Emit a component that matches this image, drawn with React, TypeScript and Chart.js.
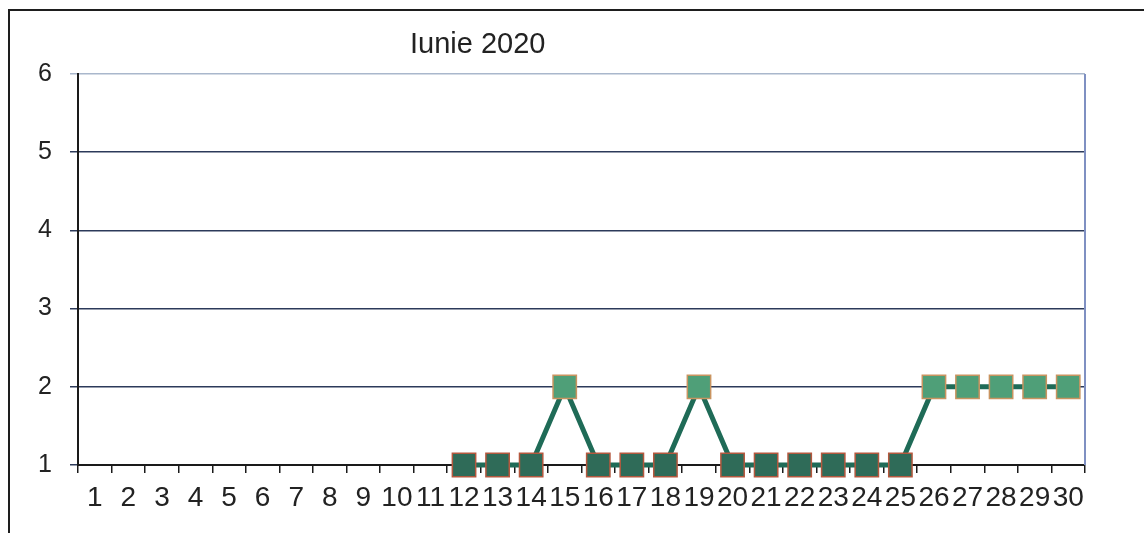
import React, { useEffect, useRef } from "react";
import { Chart, registerables } from "chart.js";

Chart.register(...registerables);

const TITLE = "Iunie 2020";
const DAYS = [
  "1", "2", "3", "4", "5", "6", "7", "8", "9", "10",
  "11", "12", "13", "14", "15", "16", "17", "18", "19", "20",
  "21", "22", "23", "24", "25", "26", "27", "28", "29", "30",
];
const VALUES: (number | null)[] = [
  null, null, null, null, null, null, null, null, null, null,
  null, 1, 1, 1, 2, 1, 1, 1, 2, 1,
  1, 1, 1, 1, 1, 2, 2, 2, 2, 2,
];
const Y_MIN = 1;
const Y_MAX = 6;

const FONT = '"Liberation Sans", Arial, sans-serif';

const decorPlugin = {
  id: "decor",
  beforeDraw(chart: any) {
    const ctx = chart.ctx;
    ctx.save();
    ctx.strokeStyle = "#1e1e1e";
    ctx.lineWidth = 2;
    ctx.beginPath();
    ctx.moveTo(8, 10);
    ctx.lineTo(1144, 10);
    ctx.moveTo(9, 10);
    ctx.lineTo(9, 533);
    ctx.stroke();
    ctx.fillStyle = "#222";
    ctx.font = `29px ${FONT}`;
    ctx.textAlign = "left";
    ctx.textBaseline = "alphabetic";
    ctx.fillText(TITLE, 410, 53);
    ctx.restore();
  },
  beforeDatasetsDraw(chart: any) {
    const { ctx, chartArea } = chart;
    ctx.save();
    ctx.strokeStyle = "#7f90c2";
    ctx.lineWidth = 2;
    ctx.beginPath();
    ctx.moveTo(chartArea.right, chartArea.top);
    ctx.lineTo(chartArea.right, chartArea.bottom);
    ctx.stroke();
    ctx.restore();
  },
};

export default function App() {
  const ref = useRef<HTMLCanvasElement>(null);
  useEffect(() => {
    if (!ref.current) return;
    const chart = new Chart(ref.current, {
      type: "line",
      data: {
        labels: DAYS,
        datasets: [
          {
            data: VALUES,
            clip: false,
            borderColor: "#1f6b57",
            borderWidth: 5,
            pointStyle: "rect",
            pointRadius: 16.5,
            pointHoverRadius: 16.5,
            pointBorderWidth: 1.5,
            pointBackgroundColor: (c: any) =>
              c.raw === 2 ? "#4f9f78" : "#2f6b58",
            pointBorderColor: (c: any) =>
              c.raw === 2 ? "#c99460" : "#b4583e",
            tension: 0,
          } as any,
        ],
      },
      options: {
        animation: false,
        responsive: false,
        events: [],
        layout: { padding: { left: 0, top: 74, right: 59, bottom: 0 } },
        plugins: {
          legend: { display: false },
          title: { display: false },
          tooltip: { enabled: false },
        },
        scales: {
          x: {
            offset: true,
            grid: {
              offset: true,
              drawOnChartArea: false,
              drawTicks: true,
              tickLength: 8,
              color: "#1a1a1a",
              lineWidth: 1.5,
            },
            border: { color: "#1a1a1a", width: 2 },
            ticks: {
              autoSkip: false,
              maxRotation: 0,
              minRotation: 0,
              padding: 8,
              color: "#222",
              font: { family: FONT, size: 28 },
            },
            afterFit: (s: any) => {
              s.height = 68;
            },
          },
          y: {
            min: Y_MIN,
            max: Y_MAX,
            ticks: {
              stepSize: 1,
              padding: 18,
              color: "#222",
              font: { family: FONT, size: 25 },
            },
            grid: {
              tickLength: 8,
              lineWidth: 1.5,
              color: (c: any) =>
                c.tick && c.tick.value === Y_MAX ? "#a9b7cc" : "#2c3a5a",
            },
            border: { color: "#1a1a1a", width: 2 },
            afterFit: (s: any) => {
              s.width = 78;
            },
          },
        },
      },
      plugins: [decorPlugin],
    });
    return () => chart.destroy();
  }, []);
  return (
    <div style={{ position: "absolute", left: 0, top: 0, width: 1144, height: 533, background: "#fff" }}>
      <canvas ref={ref} width={1144} height={533} />
    </div>
  );
}
